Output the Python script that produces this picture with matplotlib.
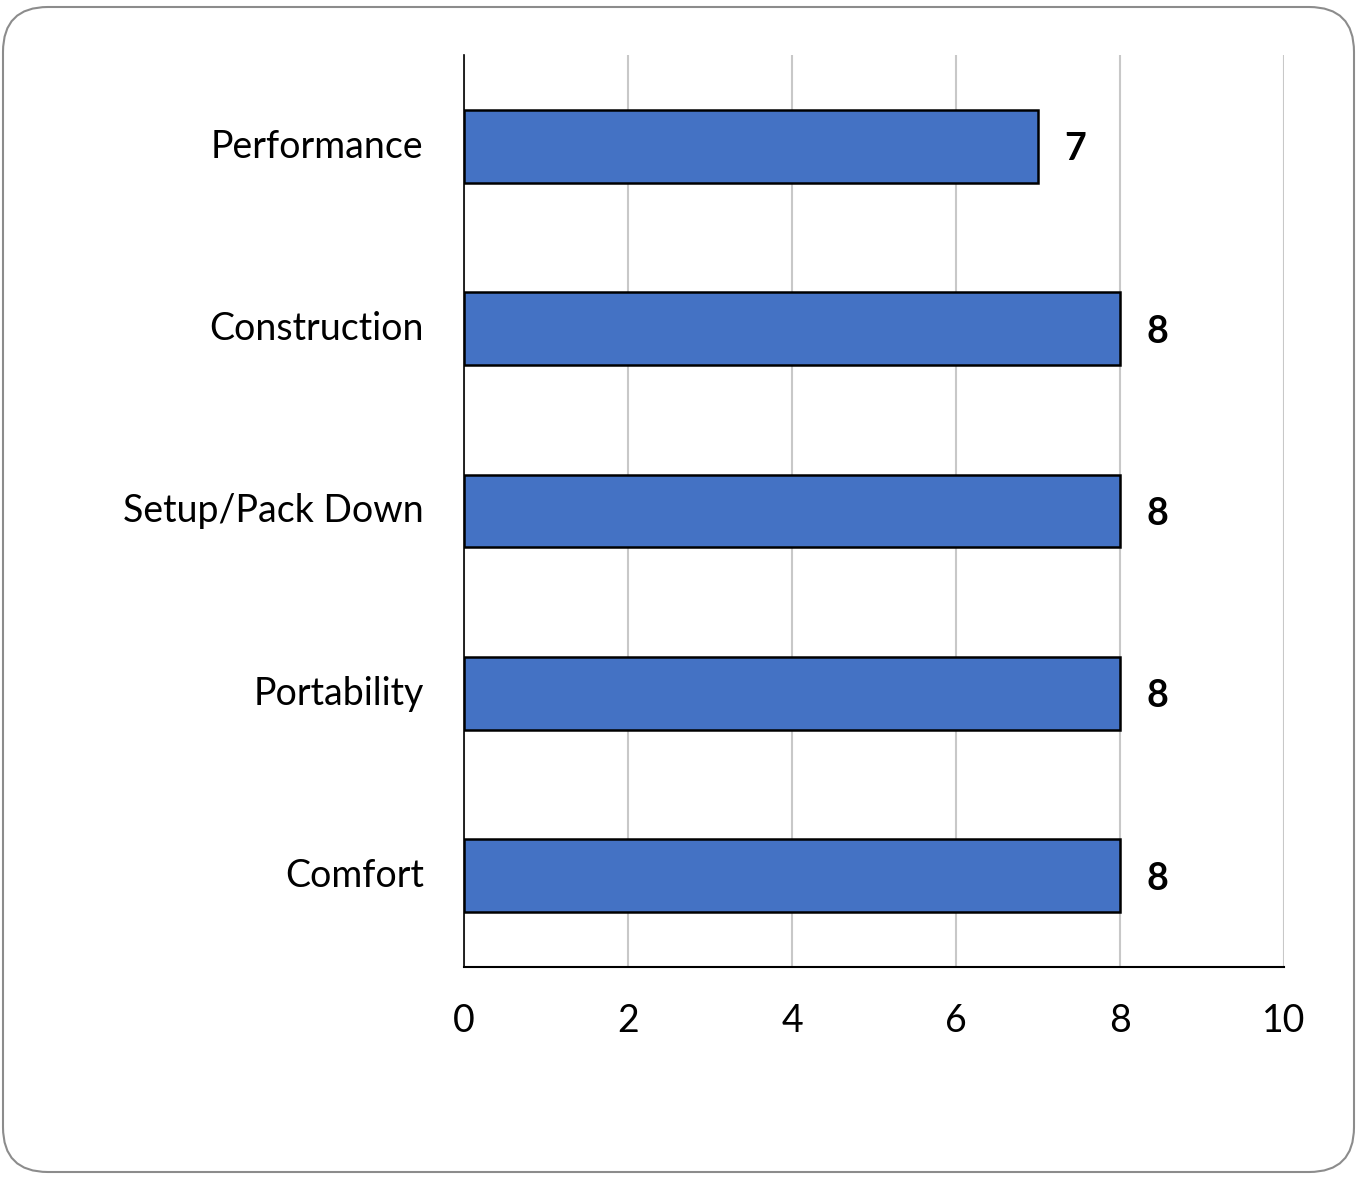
import matplotlib
matplotlib.use("Agg")
import matplotlib.pyplot as plt
import matplotlib.transforms as mtransforms
from matplotlib.patches import FancyBboxPatch

categories = ["Performance", "Construction", "Setup/Pack Down", "Portability", "Comfort"]
values = [7, 8, 8, 8, 8]
xticks = [0, 2, 4, 6, 8, 10]

plt.rcParams['font.family'] = ['Lato', 'DejaVu Sans']

W, H = 1361, 1177
fig = plt.figure(figsize=(W / 100, H / 100), dpi=100)

# rounded border
border = FancyBboxPatch((3 / W, 5 / H), (1354 - 3) / W, (1170 - 5) / H,
                        boxstyle="round,pad=0,rounding_size=0.033",
                        transform=fig.transFigure, fill=False,
                        edgecolor="#8c8c8c", linewidth=1.5,
                        mutation_aspect=W / H)
fig.patches.append(border)

ax = fig.add_axes([464 / W, 1 - 967 / H, (1284 - 464) / W, (967 - 55) / H])
ypos = list(range(len(categories)))
ax.barh(ypos, values, height=0.4, color="#4472C4", edgecolor="black",
        linewidth=1.8, zorder=3)
ax.set_ylim(len(categories) - 0.5, -0.5)
ax.set_xlim(0, 10)
ax.set_xticks(xticks)
ax.set_xticklabels([str(t) for t in xticks], fontsize=27)
ax.set_yticks(ypos)
ax.set_yticklabels(categories, fontsize=27)
ax.tick_params(axis='both', length=0)
ax.tick_params(axis='x', pad=26)
ax.tick_params(axis='y', pad=29)
ax.grid(axis='x', color="#c8c8c8", linewidth=1.5, zorder=0)
for s in ["top", "right"]:
    ax.spines[s].set_visible(False)
ax.spines["left"].set_color("black")
ax.spines["left"].set_linewidth(1.2)
ax.spines["bottom"].set_color("black")
ax.spines["bottom"].set_linewidth(1.5)

offset = mtransforms.ScaledTranslation(0, 3 / 100, fig.dpi_scale_trans)
for lbl in ax.get_yticklabels():
    lbl.set_transform(lbl.get_transform() + offset)

for y, v in zip(ypos, values):
    ax.annotate(str(v), (v, y), xytext=(26, -3), textcoords="offset pixels",
                ha="left", va="center", fontsize=27, fontweight="bold")

fig.savefig("out.png", dpi=100)
